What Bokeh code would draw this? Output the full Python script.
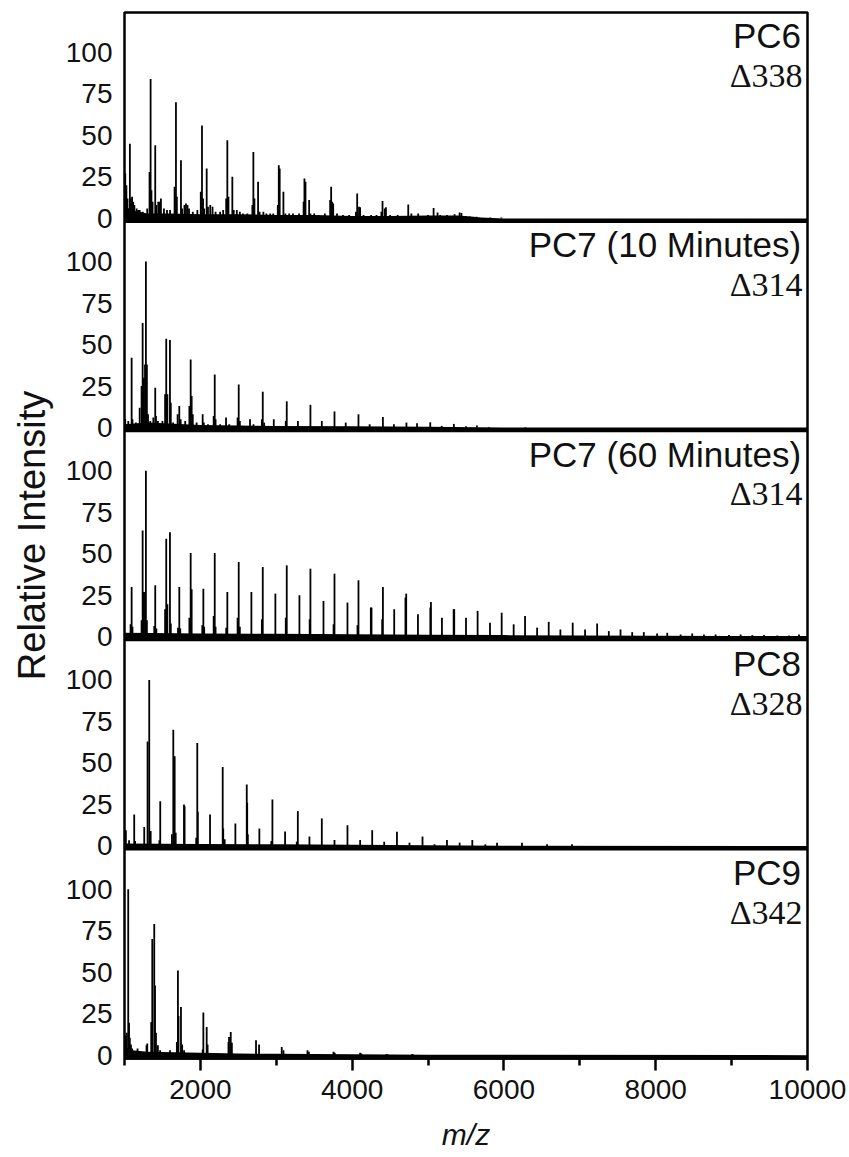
from bokeh.plotting import figure
from bokeh.models import ColumnDataSource, Range1d, FixedTicker, Label, Span
from bokeh.transform import dodge
from bokeh.embed import file_html
from bokeh.resources import INLINE

# ---------------- data ----------------
TITLES = ["PC6", "PC7 (10 Minutes)", "PC7 (60 Minutes)", "PC8", "PC9"]
DELTAS = ["\u0394338", "\u0394314", "\u0394314", "\u0394328", "\u0394342"]

Y_TICKS = [0, 25, 50, 75, 100]
X_TICKS = [2000, 4000, 6000, 8000, 10000]
X_MINOR = [1000, 3000, 5000, 7000, 9000]

# PC6
pc6_mz = [1010, 1025, 1040, 1071, 1085, 1100, 1115, 1130, 1160, 1180, 1200, 1240, 1300,
          1330, 1344, 1355, 1370, 1405, 1420, 1445, 1460, 1480, 1520, 1560, 1600,
          1660, 1678, 1690, 1744, 1760, 1790, 1810, 1830, 1850, 1900, 1960,
          2005, 2021, 2035, 2050, 2083, 2100, 2130, 2160, 2200, 2260, 2300,
          2340, 2355, 2370, 2421, 2440, 2480, 2520, 2560, 2620,
          2685, 2698, 2712, 2760, 2780, 2830, 2870, 2920, 2960,
          3020, 3033, 3045, 3094, 3120, 3170, 3220, 3300,
          3360, 3371, 3385, 3433, 3450, 3500, 3560, 3640,
          3710, 3723, 3737, 3750, 3800, 3880, 3960,
          4050, 4066, 4090, 4105, 4150, 4250, 4320,
          4385, 4400, 4430, 4445, 4500, 4600, 4739, 4780, 4870, 5000,
          5073, 5125, 5160, 5250, 5350, 5416, 5440, 5500, 5550, 5640, 5820, 5966]
pc6_i = [27, 20, 12, 45, 12, 13, 10, 8, 6, 5, 5, 4, 6,
         28, 84, 17, 10, 44, 8, 10, 10, 12, 6, 5, 5,
         19, 70, 13, 35, 6, 8, 9, 8, 6, 4, 5,
         16, 56, 12, 6, 30, 7, 8, 7, 4, 4, 5,
         12, 47, 13, 25, 5, 5, 4, 3, 3,
         8, 40, 12, 22, 4, 4, 3, 3, 3,
         8, 32, 30, 16, 3, 3, 3, 3,
         10, 24, 22, 11, 3, 3, 2, 3,
         11, 19, 10, 9, 3, 2, 2,
         4, 15, 7, 6.7, 2, 2, 2,
         4, 10.5, 6, 6.7, 2, 2, 8.3, 3, 3, 2,
         6.3, 3.6, 2, 2, 2.5, 3.6, 3.2, 1.5, 1.2, 1, 0.5, 0.5]
pc6_base_mz = [1000, 1150, 1300, 1600, 2000, 2500, 3000, 3500, 4000, 4500, 5000, 5400, 5600, 5700, 6000, 10000]
pc6_base_i = [7, 4.5, 3, 3, 2.5, 2.5, 2, 2, 1.5, 1.5, 1.8, 1.8, 1, 0.5, 0, 0]

# PC7 (10 Minutes)
pc7a_mz = [1010, 1050, 1094, 1105, 1150, 1200, 1225, 1239, 1255, 1270, 1282, 1295, 1310, 1340, 1380,
           1405, 1415, 1440, 1500, 1535, 1550, 1565, 1599, 1610, 1640, 1700, 1722, 1740, 1800,
           1855, 1872, 1885, 1900, 1950, 2030, 2045, 2100, 2175, 2189, 2200, 2260, 2338, 2380,
           2490, 2505, 2520, 2654, 2700, 2810, 2822, 2840, 2967, 3125, 3138, 3285, 3450, 3600,
           3767, 3915, 4083, 4230, 4405, 4550, 4715, 4855, 5029, 5180, 5340, 5500, 5644, 5800, 6283]
pc7a_i = [5, 4, 42, 5, 3, 12, 25, 63, 30, 38, 100, 38, 8, 4, 6,
          24, 7, 4, 4, 20, 53.5, 20, 52.7, 15, 3, 8, 13, 5, 4,
          13, 41, 19, 8, 3, 8, 3, 2, 7, 32, 5, 2, 6, 2,
          6, 26, 4, 5, 2, 5, 21.6, 3, 5, 4, 15.8, 4, 13.7, 4,
          9.7, 3, 8, 2, 6.3, 2, 3, 2.6, 3.2, 1, 2.2, 0.8, 1.2, 0.4, 0.4]
pc7a_base_mz = [1000, 1300, 2000, 3000, 4000, 5000, 6000, 10000]
pc7a_base_i = [2, 3, 1.5, 1, 0.8, 0.5, 0, 0]

# PC7 (60 Minutes)
pc7b_mz = [1080, 1094, 1105, 1225, 1239, 1255, 1270, 1282, 1295, 1392, 1405, 1420,
           1535, 1550, 1565, 1599, 1610, 1705, 1722, 1735, 1855, 1872, 1885,
           2025, 2039, 2050, 2175, 2189, 2200, 2340, 2355, 2490, 2505, 2520,
           2672, 2810, 2822, 2988, 3125, 3138, 3305, 3440, 3450, 3622, 3755, 3767,
           3938, 4070, 4083, 4246, 4255, 4395, 4405, 4554, 4702, 4712, 4867, 5030, 5038,
           5183, 5337, 5345, 5500, 5653, 5816, 5970, 6128, 6278, 6437, 6590, 6744, 6906,
           7069, 7228, 7382, 7536, 7690, 7843, 8018, 8152, 8328, 8481, 8635, 8789, 8965,
           9119, 9273, 9427, 9602, 9756, 9888]
pc7b_i = [7.5, 30, 6, 10, 64, 27, 27, 100, 10, 6.5, 31, 5,
          16.6, 59, 19.6, 63, 8, 5.5, 30, 5, 11.5, 50.5, 28.7,
          7, 29, 6, 12.5, 50.5, 6, 5.5, 27, 11.5, 45, 6,
          27, 10.5, 42, 26, 11.5, 43, 25, 10.5, 41, 21.6, 7.5, 38,
          20.6, 7, 34, 17.6, 17.6, 10.5, 30, 16.6, 23.6, 26, 13.5, 17.6, 21,
          11.5, 16.6, 16.6, 11.5, 15.6, 8.5, 14.5, 7.5, 12.5, 5.5, 9, 4.4, 8.5,
          4.4, 8, 3.4, 4.4, 2.8, 2.8, 2, 2.4, 1.4, 2, 1.4, 1.4, 1,
          1.4, 1, 1, 0.8, 0.8, 1.4]
pc7b_base_mz = [1000, 2000, 3000, 4000, 5000, 6000, 7000, 8000, 9000, 10000]
pc7b_base_i = [2.5, 2, 1.8, 1.5, 1.2, 1, 0.8, 0.6, 0.5, 0.5]

# PC8
pc8_mz = [1018, 1060, 1128, 1140, 1260, 1304, 1326, 1345, 1471, 1460, 1625, 1643, 1661, 1675,
          1784, 1792, 1959, 1966, 1945, 2127, 2294, 2301, 2320, 2461, 2611, 2617, 2625,
          2777, 2949, 2935, 3116, 3284, 3270, 3437, 3600, 3767, 3938, 4105, 4264, 4422,
          4590, 4755, 4927, 5085, 5249, 5416, 5583, 5755, 5909, 6238, 6568, 6897]
pc8_i = [9.5, 3.4, 19, 3, 11.5, 63, 100, 9, 27, 3.4, 7, 70, 54, 8,
         25, 24, 62, 20.6, 5, 19, 47.5, 10.5, 4, 13.5, 37, 26, 7,
         10.5, 28, 3, 8.7, 21, 2.6, 5.7, 16.6, 3.6, 12.5, 3.6, 9.5, 2.6,
         8.5, 2, 5.7, 1, 3.6, 2, 3.6, 1, 2, 2, 1, 1]
pc8_base_mz = [1000, 2000, 3000, 4000, 5000, 6000, 10000]
pc8_base_i = [1.5, 1.2, 1, 0.8, 0.5, 0.2, 0]

# PC9
pc9_mz = [1010, 1030, 1049, 1060, 1070, 1085, 1100, 1172, 1290, 1300, 1352, 1366, 1392, 1402, 1415,
          1440, 1470, 1600, 1690, 1704, 1712, 1744, 1760, 1785, 2030, 2039, 2083, 2095,
          2370, 2377, 2400, 2415, 2733, 2773, 3072, 3095, 3411, 3430, 3754, 3770,
          4105, 4120, 4449, 4465, 4787, 4800]
pc9_i = [12, 13.5, 100, 19.6, 10.5, 6.5, 4, 4, 6, 7, 20, 70, 79, 42, 13.5,
         6, 3, 3, 8, 51, 23.6, 29, 6.5, 3, 3.4, 25.7, 17, 6.5,
         8, 11, 14, 7.5, 9, 6.5, 5, 3, 3, 2, 2, 1.4,
         1.4, 1, 0.6, 0.6, 0.6, 0.6]
pc9_base_mz = [1000, 1100, 1300, 2000, 2500, 3000, 4000, 5000, 10000]
pc9_base_i = [5, 3, 2, 1.5, 1, 0.8, 0.5, 0.3, 0]

SPECTRA = [(pc6_mz, pc6_i, pc6_base_mz, pc6_base_i),
           (pc7a_mz, pc7a_i, pc7a_base_mz, pc7a_base_i),
           (pc7b_mz, pc7b_i, pc7b_base_mz, pc7b_base_i),
           (pc8_mz, pc8_i, pc8_base_mz, pc8_base_i),
           (pc9_mz, pc9_i, pc9_base_mz, pc9_base_i)]

# ---------------- layout: five stacked panels sharing one frame ----------------
SANS = "Liberation Sans"
SERIF = "'Liberation Serif', 'Times New Roman', serif"
TXT = "#111111"
PAD_LO, PAD_HI = 2, 124          # each panel spans -2 .. 124 intensity units
SPAN = PAD_LO + PAD_HI           # 126 units per panel
N = len(SPECTRA)

p = figure(width=849, height=1157, output_backend="svg", toolbar_location=None,
           x_range=Range1d(1000, 10000), y_range=Range1d(0, N * SPAN),
           min_border=0)
p.min_border_left = 124
p.min_border_right = 42
p.min_border_top = 12
p.min_border_bottom = 99
p.outline_line_color = "black"
p.outline_line_width = 2.5
p.xgrid.visible = False
p.ygrid.visible = False
p.background_fill_color = "white"
p.border_fill_color = "white"

tick_pos = []
tick_text = {}
for k, (mz, inten, bmz, bi) in enumerate(SPECTRA):
    bottom = (N - 1 - k) * SPAN          # panel floor in shared y units
    zero = bottom + PAD_LO                # intensity 0 of this panel
    bsrc = ColumnDataSource(dict(mz=bmz, lvl=bi))
    p.varea(x="mz", y1=bottom, y2=dodge("lvl", zero), source=bsrc, fill_color="black")
    src = ColumnDataSource(dict(mz=mz, inten=inten))
    p.segment(x0="mz", y0=zero, x1="mz", y1=dodge("inten", zero), source=src,
              line_color="black", line_width=1.8)
    for t in Y_TICKS:
        tick_pos.append(zero + t)
        tick_text[zero + t] = str(t)
    if k > 0:
        p.add_layout(Span(location=bottom + SPAN, dimension="width",
                          line_color="black", line_width=2.5))
    p.add_layout(Label(x=9915, y=zero + 110, text=TITLES[k], text_align="right",
                       text_baseline="middle", text_font=SANS,
                       text_font_size="35px", text_color=TXT))
    p.add_layout(Label(x=9935, y=zero + 86, text=DELTAS[k], text_align="right",
                       text_baseline="middle", text_font=SERIF,
                       text_font_size="34px", text_color=TXT))

ya = p.yaxis[0]
ya.ticker = FixedTicker(ticks=tick_pos)
ya.major_label_overrides = tick_text
ya.axis_line_color = None
ya.major_tick_line_color = None
ya.minor_tick_line_color = None
ya.major_tick_out = 0
ya.major_tick_in = 0
ya.minor_tick_out = 0
ya.minor_tick_in = 0
ya.major_label_standoff = 12
ya.major_label_text_font = SANS
ya.major_label_text_font_size = "28px"
ya.major_label_text_color = TXT
ya.axis_label = "Relative Intensity"
ya.axis_label_text_font = SANS
ya.axis_label_text_font_size = "38px"
ya.axis_label_text_font_style = "normal"
ya.axis_label_text_color = TXT
ya.axis_label_standoff = 10

xa = p.xaxis[0]
xa.ticker = FixedTicker(ticks=X_TICKS, minor_ticks=X_MINOR)
xa.axis_line_width = 2.5
xa.axis_line_color = "black"
xa.major_tick_out = 12
xa.major_tick_in = 0
xa.major_tick_line_width = 2.5
xa.minor_tick_out = 7
xa.minor_tick_in = 0
xa.minor_tick_line_width = 2.5
xa.major_label_standoff = 9
xa.major_label_text_font = SANS
xa.major_label_text_font_size = "28px"
xa.major_label_text_color = TXT
xa.axis_label = "m/z"
xa.axis_label_text_font = SANS
xa.axis_label_text_font_size = "30px"
xa.axis_label_text_font_style = "italic"
xa.axis_label_text_color = TXT
xa.axis_label_standoff = 16

open("out.html", "w").write(file_html(p, INLINE))
